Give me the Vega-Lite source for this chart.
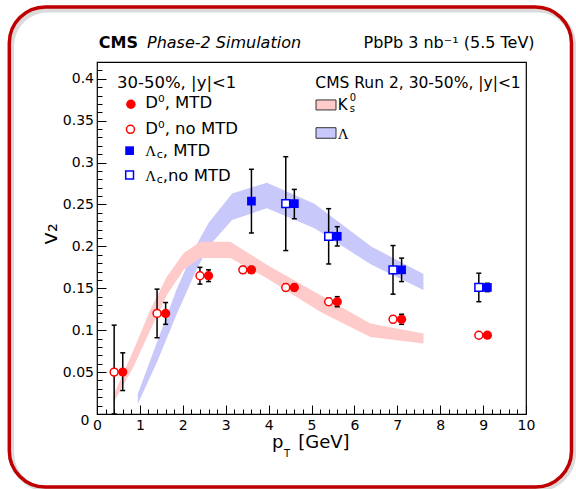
{
"$schema": "https://vega.github.io/schema/vega-lite/v6.json",
"width": 429, "height": 352,
"autosize": "none",
"padding": {"left": 97, "top": 62, "right": 50, "bottom": 75},
"background": "white",
"config": {"view": {"stroke": "#000", "strokeWidth": 1.2}, "font": "DejaVu Sans"},
"data": {"values": [{}]},
"datasets": {
 "bands": [
  {"sp": "L", "pt": 0.95, "lo": 0.012, "hi": 0.024},
  {"sp": "L", "pt": 1.40, "lo": 0.062, "hi": 0.086},
  {"sp": "L", "pt": 1.85, "lo": 0.118, "hi": 0.148},
  {"sp": "L", "pt": 2.30, "lo": 0.170, "hi": 0.200},
  {"sp": "L", "pt": 2.60, "lo": 0.200, "hi": 0.228},
  {"sp": "L", "pt": 3.15, "lo": 0.2315, "hi": 0.263},
  {"sp": "L", "pt": 3.96, "lo": 0.2455, "hi": 0.276},
  {"sp": "L", "pt": 5.07, "lo": 0.2215, "hi": 0.251},
  {"sp": "L", "pt": 6.40, "lo": 0.178, "hi": 0.1997},
  {"sp": "L", "pt": 7.61, "lo": 0.148, "hi": 0.167},
  {"sp": "K", "pt": 0.38, "lo": 0.013, "hi": 0.022},
  {"sp": "K", "pt": 0.85, "lo": 0.056, "hi": 0.076},
  {"sp": "K", "pt": 1.24, "lo": 0.100, "hi": 0.124},
  {"sp": "K", "pt": 1.63, "lo": 0.142, "hi": 0.164},
  {"sp": "K", "pt": 2.02, "lo": 0.172, "hi": 0.192},
  {"sp": "K", "pt": 2.41, "lo": 0.186, "hi": 0.2056},
  {"sp": "K", "pt": 3.11, "lo": 0.186, "hi": 0.2056},
  {"sp": "K", "pt": 3.96, "lo": 0.162, "hi": 0.178},
  {"sp": "K", "pt": 5.20, "lo": 0.122, "hi": 0.142},
  {"sp": "K", "pt": 6.37, "lo": 0.092, "hi": 0.108},
  {"sp": "K", "pt": 7.61, "lo": 0.084, "hi": 0.096}
 ],
 "pts": [
  {"sp": "D", "m": "no", "pt": 0.4, "v": 0.050, "lo": 0.0, "hi": 0.106},
  {"sp": "D", "m": "no", "pt": 1.4, "v": 0.120, "lo": 0.091, "hi": 0.149},
  {"sp": "D", "m": "no", "pt": 2.4, "v": 0.165, "lo": 0.155, "hi": 0.175},
  {"sp": "D", "m": "no", "pt": 3.4, "v": 0.172, "lo": 0.168, "hi": 0.176},
  {"sp": "D", "m": "no", "pt": 4.4, "v": 0.151, "lo": 0.147, "hi": 0.155},
  {"sp": "D", "m": "no", "pt": 5.4, "v": 0.134, "lo": 0.130, "hi": 0.138},
  {"sp": "D", "m": "no", "pt": 6.9, "v": 0.113, "lo": 0.109, "hi": 0.117},
  {"sp": "D", "m": "no", "pt": 8.9, "v": 0.094, "lo": 0.091, "hi": 0.097},
  {"sp": "D", "m": "yes", "pt": 0.6, "v": 0.050, "lo": 0.028, "hi": 0.073},
  {"sp": "D", "m": "yes", "pt": 1.6, "v": 0.120, "lo": 0.107, "hi": 0.133},
  {"sp": "D", "m": "yes", "pt": 2.6, "v": 0.165, "lo": 0.158, "hi": 0.172},
  {"sp": "D", "m": "yes", "pt": 3.6, "v": 0.172, "lo": 0.168, "hi": 0.176},
  {"sp": "D", "m": "yes", "pt": 4.6, "v": 0.151, "lo": 0.147, "hi": 0.155},
  {"sp": "D", "m": "yes", "pt": 5.6, "v": 0.134, "lo": 0.128, "hi": 0.140},
  {"sp": "D", "m": "yes", "pt": 7.1, "v": 0.113, "lo": 0.107, "hi": 0.119},
  {"sp": "D", "m": "yes", "pt": 9.1, "v": 0.094, "lo": 0.091, "hi": 0.097},
  {"sp": "L", "m": "no", "pt": 4.4, "v": 0.251, "lo": 0.195, "hi": 0.307},
  {"sp": "L", "m": "no", "pt": 5.4, "v": 0.212, "lo": 0.179, "hi": 0.245},
  {"sp": "L", "m": "no", "pt": 6.9, "v": 0.172, "lo": 0.143, "hi": 0.201},
  {"sp": "L", "m": "no", "pt": 8.9, "v": 0.151, "lo": 0.134, "hi": 0.168},
  {"sp": "L", "m": "yes", "pt": 3.6, "v": 0.254, "lo": 0.216, "hi": 0.292},
  {"sp": "L", "m": "yes", "pt": 4.6, "v": 0.251, "lo": 0.233, "hi": 0.268},
  {"sp": "L", "m": "yes", "pt": 5.6, "v": 0.212, "lo": 0.2005, "hi": 0.2235},
  {"sp": "L", "m": "yes", "pt": 7.1, "v": 0.172, "lo": 0.158, "hi": 0.186},
  {"sp": "L", "m": "yes", "pt": 9.1, "v": 0.151, "lo": 0.146, "hi": 0.156}
 ]
},
"layer": [
 {"data": {"name": "bands"}, "transform": [{"filter": "datum.sp === 'L'"}],
  "mark": {"type": "area", "color": "#c8c8fa", "opacity": 1},
  "encoding": {
   "x": {"field": "pt", "type": "quantitative", "title": null,
    "scale": {"domain": [0, 10], "nice": false, "zero": false},
    "axis": {"title": null, "tickCount": 500, "values": [0,0.2,0.4,0.6,0.8,1,1.2,1.4,1.6,1.8,2,2.2,2.4,2.6,2.8,3,3.2,3.4,3.6,3.8,4,4.2,4.4,4.6,4.8,5,5.2,5.4,5.6,5.8,6,6.2,6.4,6.6,6.8,7,7.2,7.4,7.6,7.8,8,8.2,8.4,8.6,8.8,9,9.2,9.4,9.6,9.8,10],
     "labelExpr": "datum.value % 1 === 0 ? format(datum.value, 'd') : ''",
     "tickSize": {"condition": {"test": "datum.value % 1 === 0", "value": -9}, "value": -5},
     "tickColor": "#000", "tickWidth": 1, "domain": false, "grid": false,
     "labelFontSize": 14, "labelFont": "DejaVu Sans", "labelColor": "#000", "labelPadding": 13,
     "labelOverlap": false, "labelFlush": false, "labelBound": false}},
   "y": {"field": "lo", "type": "quantitative", "title": null,
    "scale": {"domain": [0, 0.42], "nice": false, "zero": false},
    "axis": {"title": null, "tickCount": 500, "values": [0,0.01,0.02,0.03,0.04,0.05,0.06,0.07,0.08,0.09,0.1,0.11,0.12,0.13,0.14,0.15,0.16,0.17,0.18,0.19,0.2,0.21,0.22,0.23,0.24,0.25,0.26,0.27,0.28,0.29,0.3,0.31,0.32,0.33,0.34,0.35,0.36,0.37,0.38,0.39,0.4,0.41,0.42],
     "labelExpr": "abs(datum.value*20 - round(datum.value*20)) < 0.001 ? format(datum.value, '~g') : ''",
     "tickSize": {"condition": {"test": "abs(datum.value*20 - round(datum.value*20)) < 0.001", "value": -9}, "value": -5},
     "labelOffset": {"condition": {"test": "datum.value === 0", "value": 6}, "value": 0},
     "labelPadding": {"condition": {"test": "datum.value === 0", "value": 17}, "value": 12.5},
     "tickColor": "#000", "tickWidth": 1, "domain": false, "grid": false,
     "labelFontSize": 14, "labelFont": "DejaVu Sans", "labelColor": "#000",
     "labelOverlap": false, "labelFlush": false, "labelBound": false}},
   "y2": {"field": "hi"}
  }},
 {"data": {"name": "bands"}, "transform": [{"filter": "datum.sp === 'K'"}],
  "mark": {"type": "area", "color": "#ffcaca", "opacity": 1},
  "encoding": {"x": {"field": "pt", "type": "quantitative", "title": null}, "y": {"field": "lo", "type": "quantitative", "title": null}, "y2": {"field": "hi"}}},
 {"mark": {"type": "rect", "cornerRadius": 36, "fillOpacity": 0, "stroke": "#999999", "strokeOpacity": 0.35, "strokeWidth": 5},
  "encoding": {"x": {"datum": -1.99, "type": "quantitative"}, "x2": {"datum": 11.11}, "y": {"datum": 0.482, "type": "quantitative"}, "y2": {"datum": -0.0895}}},
 {"mark": {"type": "rect", "cornerRadius": 36, "fillOpacity": 0, "stroke": "#c00000", "strokeWidth": 3.5},
  "encoding": {"x": {"datum": -2.044, "type": "quantitative"}, "x2": {"datum": 11.06}, "y": {"datum": 0.4857, "type": "quantitative"}, "y2": {"datum": -0.0871}}},
 {"data": {"name": "pts"},
  "mark": {"type": "rule", "color": "#000", "strokeWidth": 1.5},
  "encoding": {"x": {"field": "pt", "type": "quantitative", "title": null}, "y": {"field": "lo", "type": "quantitative", "title": null}, "y2": {"field": "hi"}}},
 {"data": {"name": "pts"},
  "mark": {"type": "tick", "orient": "horizontal", "size": 5, "thickness": 1.5, "color": "#000", "opacity": 1},
  "encoding": {"x": {"field": "pt", "type": "quantitative", "title": null}, "y": {"field": "lo", "type": "quantitative", "title": null}}},
 {"data": {"name": "pts"},
  "mark": {"type": "tick", "orient": "horizontal", "size": 5, "thickness": 1.5, "color": "#000", "opacity": 1},
  "encoding": {"x": {"field": "pt", "type": "quantitative", "title": null}, "y": {"field": "hi", "type": "quantitative", "title": null}}},
 {"data": {"name": "pts"}, "transform": [{"filter": "datum.sp === 'D' && datum.m === 'no'"}],
  "mark": {"type": "point", "shape": "circle", "size": 62, "filled": true, "fill": "white", "stroke": "#ff0000", "strokeWidth": 1.5, "opacity": 1},
  "encoding": {"x": {"field": "pt", "type": "quantitative", "title": null}, "y": {"field": "v", "type": "quantitative", "title": null}}},
 {"data": {"name": "pts"}, "transform": [{"filter": "datum.sp === 'D' && datum.m === 'yes'"}],
  "mark": {"type": "point", "shape": "circle", "size": 86, "filled": true, "color": "#ff0000", "opacity": 1},
  "encoding": {"x": {"field": "pt", "type": "quantitative", "title": null}, "y": {"field": "v", "type": "quantitative", "title": null}}},
 {"data": {"name": "pts"}, "transform": [{"filter": "datum.sp === 'L' && datum.m === 'no'"}],
  "mark": {"type": "point", "shape": "square", "size": 61, "filled": true, "fill": "white", "stroke": "#0000ff", "strokeWidth": 1.5, "opacity": 1},
  "encoding": {"x": {"field": "pt", "type": "quantitative", "title": null}, "y": {"field": "v", "type": "quantitative", "title": null}}},
 {"data": {"name": "pts"}, "transform": [{"filter": "datum.sp === 'L' && datum.m === 'yes'"}],
  "mark": {"type": "point", "shape": "square", "size": 76, "filled": true, "color": "#0000ff", "opacity": 1},
  "encoding": {"x": {"field": "pt", "type": "quantitative", "title": null}, "y": {"field": "v", "type": "quantitative", "title": null}}},

 {"mark": {"type": "text", "text": "CMS", "fontWeight": "bold", "fontSize": 16, "align": "left", "baseline": "alphabetic", "color": "#000"},
  "encoding": {"x": {"datum": 0.04, "type": "quantitative"}, "y": {"datum": 0.4364, "type": "quantitative"}}},
 {"mark": {"type": "text", "text": "Phase-2 Simulation", "fontStyle": "italic", "fontSize": 16, "align": "left", "baseline": "alphabetic", "color": "#000"},
  "encoding": {"x": {"datum": 1.166, "type": "quantitative"}, "y": {"datum": 0.4364, "type": "quantitative"}}},
 {"mark": {"type": "text", "text": "PbPb 3 nb⁻¹ (5.5 TeV)", "fontSize": 16, "align": "right", "baseline": "alphabetic", "color": "#000"},
  "encoding": {"x": {"datum": 10.2, "type": "quantitative"}, "y": {"datum": 0.4364, "type": "quantitative"}}},

 {"mark": {"type": "text", "text": "30-50%, |y|<1", "fontSize": 16.5, "align": "left", "baseline": "alphabetic", "color": "#000"},
  "encoding": {"x": {"datum": 0.466, "type": "quantitative"}, "y": {"datum": 0.389, "type": "quantitative"}}},
 {"mark": {"type": "point", "shape": "circle", "size": 90, "filled": true, "color": "#ff0000", "opacity": 1},
  "encoding": {"x": {"datum": 0.79, "type": "quantitative"}, "y": {"datum": 0.3696, "type": "quantitative"}}},
 {"mark": {"type": "text", "text": "D⁰, MTD", "fontSize": 16.5, "align": "left", "baseline": "alphabetic", "color": "#000"},
  "encoding": {"x": {"datum": 1.126, "type": "quantitative"}, "y": {"datum": 0.3648, "type": "quantitative"}}},
 {"mark": {"type": "point", "shape": "circle", "size": 64, "filled": true, "fill": "white", "stroke": "#ff0000", "strokeWidth": 1.5, "opacity": 1},
  "encoding": {"x": {"datum": 0.78, "type": "quantitative"}, "y": {"datum": 0.3397, "type": "quantitative"}}},
 {"mark": {"type": "text", "text": "D⁰, no MTD", "fontSize": 16.5, "align": "left", "baseline": "alphabetic", "color": "#000"},
  "encoding": {"x": {"datum": 1.126, "type": "quantitative"}, "y": {"datum": 0.3341, "type": "quantitative"}}},
 {"mark": {"type": "point", "shape": "square", "size": 76, "filled": true, "color": "#0000ff", "opacity": 1},
  "encoding": {"x": {"datum": 0.76, "type": "quantitative"}, "y": {"datum": 0.3142, "type": "quantitative"}}},
 {"mark": {"type": "text", "text": "Λ", "font": "Liberation Serif", "fontSize": 15, "align": "left", "baseline": "alphabetic", "color": "#000"},
  "encoding": {"x": {"datum": 1.126, "type": "quantitative"}, "y": {"datum": 0.3079, "type": "quantitative"}}},
 {"mark": {"type": "text", "text": "c", "fontSize": 11, "align": "left", "baseline": "alphabetic", "color": "#000"},
  "encoding": {"x": {"datum": 1.394, "type": "quantitative"}, "y": {"datum": 0.3055, "type": "quantitative"}}},
 {"mark": {"type": "text", "text": ", MTD", "fontSize": 16.5, "align": "left", "baseline": "alphabetic", "color": "#000"},
  "encoding": {"x": {"datum": 1.53, "type": "quantitative"}, "y": {"datum": 0.3079, "type": "quantitative"}}},
 {"mark": {"type": "point", "shape": "square", "size": 61, "filled": true, "fill": "white", "stroke": "#0000ff", "strokeWidth": 1.5, "opacity": 1},
  "encoding": {"x": {"datum": 0.76, "type": "quantitative"}, "y": {"datum": 0.2852, "type": "quantitative"}}},
 {"mark": {"type": "text", "text": "Λ", "font": "Liberation Serif", "fontSize": 15, "align": "left", "baseline": "alphabetic", "color": "#000"},
  "encoding": {"x": {"datum": 1.126, "type": "quantitative"}, "y": {"datum": 0.2784, "type": "quantitative"}}},
 {"mark": {"type": "text", "text": "c", "fontSize": 11, "align": "left", "baseline": "alphabetic", "color": "#000"},
  "encoding": {"x": {"datum": 1.394, "type": "quantitative"}, "y": {"datum": 0.276, "type": "quantitative"}}},
 {"mark": {"type": "text", "text": ",no MTD", "fontSize": 16.5, "align": "left", "baseline": "alphabetic", "color": "#000"},
  "encoding": {"x": {"datum": 1.53, "type": "quantitative"}, "y": {"datum": 0.2784, "type": "quantitative"}}},

 {"mark": {"type": "text", "text": "CMS Run 2, 30-50%, |y|<1", "fontSize": 15.5, "align": "left", "baseline": "alphabetic", "color": "#000"},
  "encoding": {"x": {"datum": 5.089, "type": "quantitative"}, "y": {"datum": 0.3887, "type": "quantitative"}}},
 {"mark": {"type": "rect", "fill": "#ffcaca", "stroke": "#333333", "strokeWidth": 1},
  "encoding": {"x": {"datum": 5.105, "type": "quantitative"}, "x2": {"datum": 5.571}, "y": {"datum": 0.3747, "type": "quantitative"}, "y2": {"datum": 0.3628}}},
 {"mark": {"type": "rect", "fill": "#c8c8fa", "stroke": "#333333", "strokeWidth": 1},
  "encoding": {"x": {"datum": 5.105, "type": "quantitative"}, "x2": {"datum": 5.571}, "y": {"datum": 0.3416, "type": "quantitative"}, "y2": {"datum": 0.329}}},
 {"mark": {"type": "text", "text": "K", "fontSize": 15, "align": "left", "baseline": "alphabetic", "color": "#000"},
  "encoding": {"x": {"datum": 5.613, "type": "quantitative"}, "y": {"datum": 0.3622, "type": "quantitative"}}},
 {"mark": {"type": "text", "text": "0", "fontSize": 10, "align": "left", "baseline": "alphabetic", "color": "#000"},
  "encoding": {"x": {"datum": 5.89, "type": "quantitative"}, "y": {"datum": 0.3735, "type": "quantitative"}}},
 {"mark": {"type": "text", "text": "s", "fontSize": 10, "align": "left", "baseline": "alphabetic", "color": "#000"},
  "encoding": {"x": {"datum": 5.89, "type": "quantitative"}, "y": {"datum": 0.3598, "type": "quantitative"}}},
 {"mark": {"type": "text", "text": "Λ", "font": "Liberation Serif", "fontSize": 15, "align": "left", "baseline": "alphabetic", "color": "#000"},
  "encoding": {"x": {"datum": 5.613, "type": "quantitative"}, "y": {"datum": 0.3282, "type": "quantitative"}}},

 {"mark": {"type": "text", "text": "p", "fontSize": 18, "align": "left", "baseline": "alphabetic", "color": "#000"},
  "encoding": {"x": {"datum": 4.079, "type": "quantitative"}, "y": {"datum": -0.0406, "type": "quantitative"}}},
 {"mark": {"type": "text", "text": "T", "fontSize": 10, "align": "left", "baseline": "alphabetic", "color": "#000"},
  "encoding": {"x": {"datum": 4.359, "type": "quantitative"}, "y": {"datum": -0.0513, "type": "quantitative"}}},
 {"mark": {"type": "text", "text": "[GeV]", "fontSize": 18, "align": "left", "baseline": "alphabetic", "color": "#000"},
  "encoding": {"x": {"datum": 4.69, "type": "quantitative"}, "y": {"datum": -0.0406, "type": "quantitative"}}},
 {"mark": {"type": "text", "text": "v₂", "fontSize": 22, "angle": 270, "align": "center", "baseline": "middle", "color": "#000"},
  "encoding": {"x": {"datum": -1.089, "type": "quantitative"}, "y": {"datum": 0.2148, "type": "quantitative"}}}
]
}
